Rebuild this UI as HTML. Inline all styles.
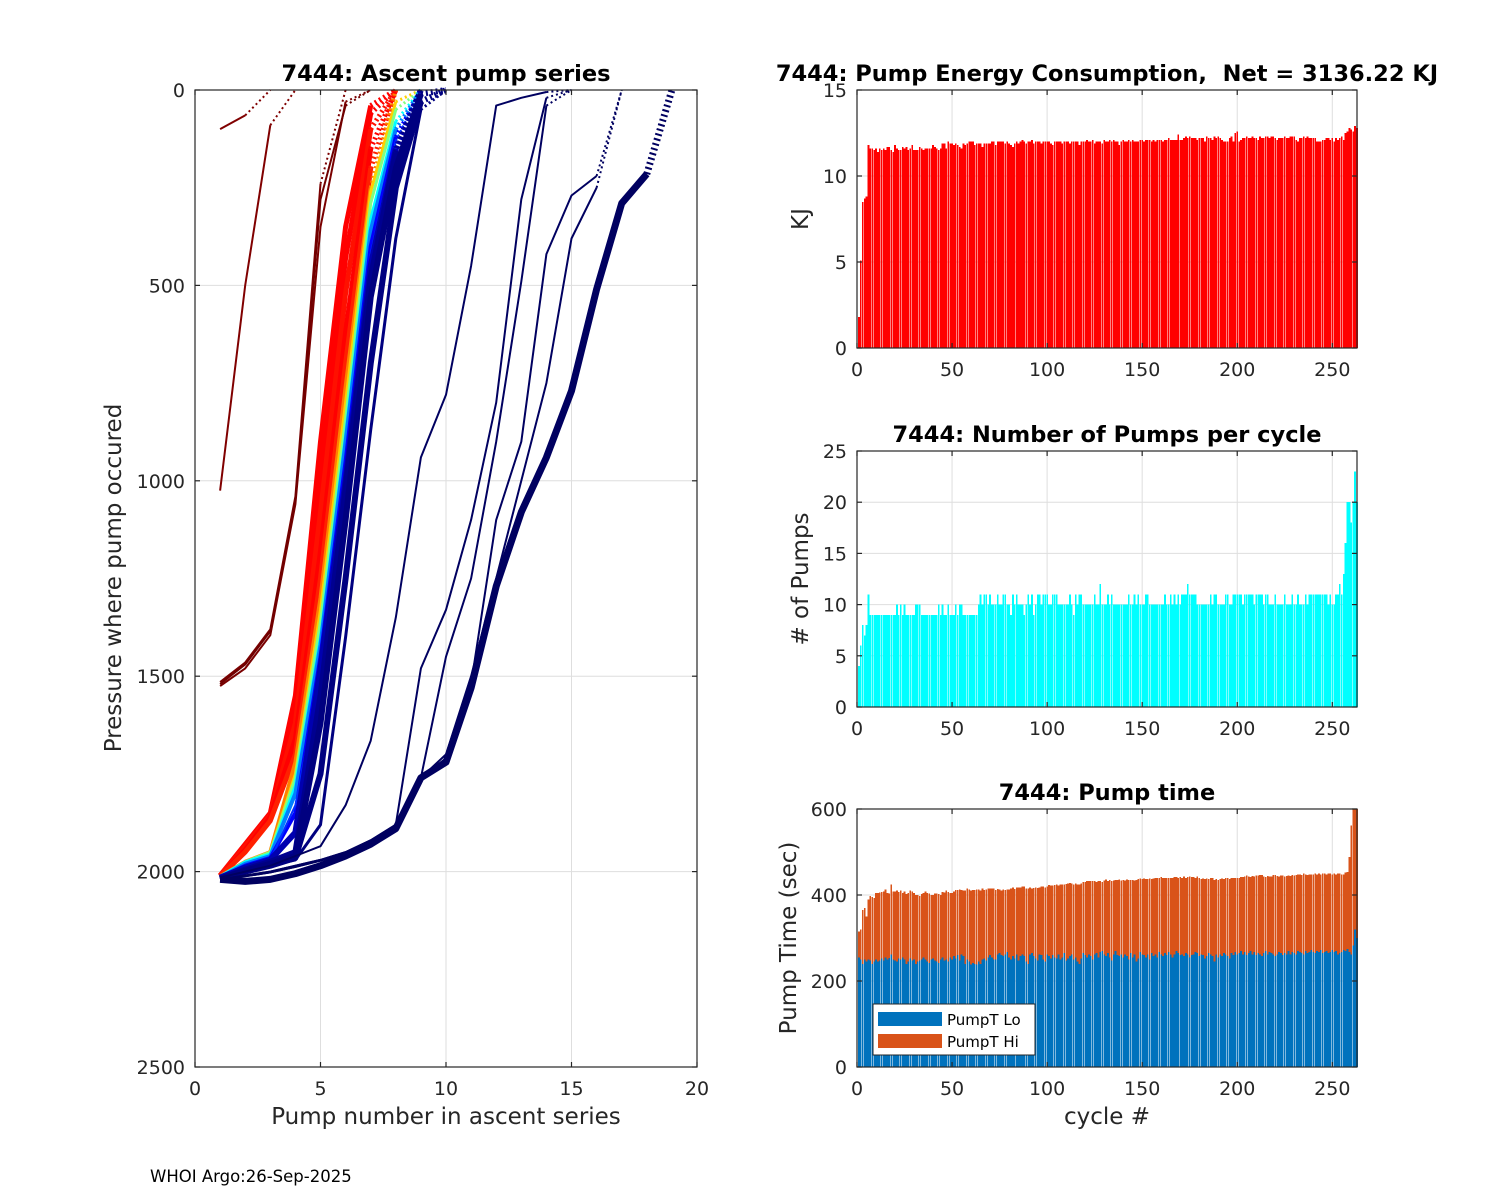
<!DOCTYPE html>
<html><head><meta charset="utf-8"><style>
body{margin:0;background:#fff;}
svg{display:block;font-family:"DejaVu Sans","Liberation Sans",sans-serif;}
</style></head><body>
<svg id="fig" width="1500" height="1200" viewBox="0 0 1500 1200">
<rect width="1500" height="1200" fill="#fff"/>
</svg>
<script>
// ---------- data ----------
const leftXTicks=[0,5,10,15,20];
const leftYTicks=[0,500,1000,1500,2000,2500];
const rightXTicks=[0,50,100,150,200,250];
const energyTicks=[0,5,10,15];
const pumpTicks=[0,5,10,15,20,25];
const timeTicks=[0,200,400,600];
const energy=[1.8,5.1,8.5,8.7,8.8,11.8,11.6,11.6,11.5,11.6,
11.4,11.6,11.5,11.6,11.5,11.7,11.7,11.5,11.4,11.8,
11.6,11.5,11.5,11.7,11.6,11.7,11.5,11.6,11.8,11.5,
11.5,11.5,11.7,11.6,11.5,11.6,11.6,11.6,11.6,11.8,
11.7,11.6,11.5,11.6,11.9,11.9,11.6,12.0,11.9,11.9,
11.8,11.9,11.8,11.7,11.6,11.9,11.8,11.9,12.0,12.0,
12.0,11.8,11.9,11.9,11.9,11.7,11.9,11.9,11.9,11.9,
12.0,12.0,11.8,12.0,12.0,12.0,12.0,11.9,12.0,11.9,
11.8,11.7,11.9,12.0,11.9,12.0,12.1,12.0,11.9,12.0,
12.0,12.1,11.9,12.0,12.0,12.0,11.9,12.0,12.0,12.0,
12.0,11.9,11.8,12.0,12.0,12.0,12.0,11.9,12.0,12.0,
12.0,11.9,12.0,12.0,12.0,12.0,11.8,12.0,12.0,12.0,
12.1,12.0,12.0,12.1,11.9,12.0,12.0,12.0,11.9,12.1,
12.0,12.0,12.1,12.0,12.1,12.0,12.0,11.8,12.0,12.1,
12.0,12.0,12.1,12.0,12.1,12.0,12.0,12.0,12.1,12.1,
12.0,12.1,12.1,12.1,12.0,12.1,12.0,12.1,12.1,12.1,
12.0,12.1,12.1,12.2,12.1,12.1,12.1,12.1,12.4,12.1,
12.1,12.2,12.3,12.2,12.3,12.2,12.2,12.2,12.1,12.2,
12.2,12.2,12.0,12.3,12.2,12.2,12.1,12.3,12.2,12.3,
12.2,12.1,12.0,12.0,12.0,12.2,12.3,12.0,12.5,12.6,
12.0,12.1,12.2,12.2,12.3,12.2,12.2,12.3,12.2,12.2,
12.1,12.3,12.2,12.2,12.3,12.3,12.2,12.3,12.3,12.2,
12.1,12.2,12.2,12.2,12.3,12.2,12.2,12.3,12.3,12.3,
12.1,12.0,12.2,12.2,12.3,12.2,12.3,12.2,12.2,12.2,
12.2,12.0,12.0,12.0,12.1,12.1,12.2,12.2,12.1,12.2,
12.0,12.2,12.1,12.2,12.3,12.1,12.5,12.6,12.8,12.7,
12.6,12.9,12.8];
const pumps=[4,6,8,7,8,11,9,9,9,9,
9,9,9,9,9,9,9,9,9,9,
10,9,10,9,10,9,9,9,9,9,
10,10,10,9,9,9,9,9,9,9,
9,9,10,9,10,9,9,10,9,9,
9,10,9,10,10,9,9,9,9,9,
9,9,9,10,11,10,11,11,10,11,
10,10,10,11,10,10,11,11,10,10,
9,11,10,11,10,10,10,9,10,11,
10,11,9,10,11,11,10,11,11,11,
10,10,11,11,11,10,10,10,10,10,
10,11,10,9,11,10,11,11,10,10,
10,10,10,10,11,10,10,12,10,10,
10,11,10,11,10,10,10,10,10,10,
10,10,11,10,10,11,10,11,10,10,
10,11,11,10,10,10,10,10,10,10,
10,11,10,10,11,10,11,10,11,10,
11,11,11,12,11,11,11,11,10,10,
10,10,10,10,10,11,10,11,11,10,
10,10,10,11,11,10,10,11,11,11,
11,11,10,11,11,11,11,11,10,11,
11,11,11,10,11,11,10,10,10,11,
10,10,10,10,11,10,10,10,11,10,
10,11,10,10,10,11,10,11,11,11,
11,11,11,11,11,11,11,10,11,10,
10,11,11,12,11,13,16,20,20,18,
20,23,20];
const pumpTLo=[255,250,240,250,245,250,248,240,245,250,
245,248,252,248,255,250,253,262,250,248,
245,252,250,255,250,240,245,252,248,250,
240,245,248,250,255,250,245,242,250,252,
248,245,242,250,255,248,250,245,255,250,
258,252,260,248,262,258,240,250,245,238,
242,240,238,245,240,250,252,248,255,260,
255,250,250,262,265,260,258,262,268,255,
250,258,252,262,248,258,262,258,245,240,
262,265,258,252,248,262,260,250,245,262,
258,252,260,255,252,262,250,255,265,248,
252,258,262,250,255,245,240,252,265,260,
255,262,258,250,262,265,255,268,270,262,
258,265,255,248,262,270,260,258,262,255,
262,258,250,265,255,262,245,252,268,262,
260,255,262,250,265,258,262,255,268,262,
258,265,260,268,262,255,262,270,265,260,
262,258,265,262,255,260,262,268,265,258,
262,260,252,258,265,262,258,245,262,255,
262,258,265,262,258,252,265,260,268,262,
265,270,262,268,260,265,270,262,268,260,
265,262,258,265,270,262,268,265,262,258,
262,268,265,260,265,262,270,262,268,265,
262,270,268,265,262,270,265,268,272,268,
265,270,268,272,265,268,270,265,268,272,
268,270,262,265,268,272,270,275,268,262,
282,320,300];
const pumpTHi=[60,70,125,120,105,140,150,155,148,155,
160,158,155,160,158,155,150,162,158,160,
165,155,160,150,158,162,160,158,160,155,
160,155,150,152,150,158,160,162,150,148,
155,158,160,150,152,158,160,162,150,155,
150,160,152,165,150,152,170,165,168,172,
170,172,175,168,170,165,160,165,160,155,
160,165,162,152,148,150,155,150,145,158,
165,160,162,155,170,160,158,162,170,175,
155,150,158,165,168,155,160,170,172,158,
165,170,162,168,172,160,175,170,160,178,
175,170,165,175,172,180,185,175,165,170,
178,170,175,182,170,165,178,165,160,172,
178,168,180,185,172,165,175,178,172,180,
172,178,185,170,180,172,190,185,170,175,
178,182,175,188,172,180,178,185,172,180,
182,175,180,172,178,185,180,172,175,182,
178,185,175,180,188,182,180,172,178,182,
175,178,185,180,172,178,182,190,175,180,
175,180,172,178,182,185,175,180,172,178,
175,172,180,175,185,178,172,182,175,185,
180,185,188,178,172,182,175,178,185,188,
182,175,180,185,178,182,175,182,178,180,
185,178,180,182,188,178,182,180,176,180,
185,178,182,176,185,182,178,185,182,176,
182,178,188,185,180,176,182,178,220,300,
400,400,400];
// ascent profiles: pressure at pump 1..n (last point = surface)
const profColors=["#800000","#800000","#7a0000","#7a0000","#700000",
"#ff0000","#ff0000","#ff1000","#ff0000","#ff2000","#ff8000","#ffd000","#80ff80","#00ffff",
"#0080ff","#0000ff","#0030ff","#0000b0","#000090","#000080","#000080","#000080",
"#000060","#000060","#000060","#000060","#000060","#000060"];
const profWidths=[2,2,2,2,2,5,5,5,5,5,4,3,3,3,4,4,2,6,6,6,6,3,2,2,2,2,2,7];
const profiles=[
[100,65,0],
[1025,500,90,0],
[1515,1465,1380,1040,240,0],
[1525,1480,1395,1060,350,30,0],
[1520,1470,1385,1050,280,40,0],
[2010,1930,1850,1550,900,350,40,0],
[2010,1940,1860,1600,1000,430,60,0],
[2010,1935,1855,1620,1080,520,100,0],
[2012,1945,1860,1660,1180,620,150,0],
[2012,1950,1870,1700,1250,700,200,0],
[2012,1975,1950,1720,1300,760,250,0],
[2012,1975,1950,1750,1330,800,260,30,0],
[2012,1975,1950,1760,1360,840,290,50,0],
[2012,1975,1955,1780,1400,880,330,80,0],
[2015,1980,1960,1800,1420,900,360,100,0],
[2015,1985,1965,1850,1450,950,400,120,0],
[2015,1990,1970,1830,1500,980,420,130,0],
[2015,1990,1970,1900,1480,1000,450,150,0],
[2018,1995,1975,1950,1550,1020,480,160,0],
[2018,1998,1980,1960,1620,1100,530,200,10,0],
[2020,2000,1985,1965,1750,1250,700,250,30,0],
[2020,2000,1985,1970,1880,1400,870,380,50,0],
[2015,2000,1985,1960,1935,1830,1665,1350,940,780,450,40,20,5,0],
[2020,2010,2000,1985,1970,1950,1920,1880,1480,1330,1100,800,280,20,0],
[2020,2010,2000,1985,1970,1950,1920,1880,1760,1450,1250,900,490,40,0],
[2020,2012,2002,1988,1972,1952,1922,1885,1760,1700,1500,1250,1000,750,380,250,0],
[2020,2012,2002,1988,1972,1952,1922,1890,1760,1710,1520,1100,900,420,270,220,0],
[2020,2025,2020,2005,1985,1960,1930,1890,1760,1720,1530,1270,1080,940,770,510,290,215,0]
];
// ---------- helpers ----------
const NS="http://www.w3.org/2000/svg";
const svg=document.getElementById('fig');
function mk(tag,attrs,parent){const e=document.createElementNS(NS,tag);for(const k in attrs)e.setAttribute(k,attrs[k]);(parent||svg).appendChild(e);return e;}
function txt(s,x,y,size,anchor,weight,parent,rot){const t=mk('text',{x:x,y:y,'font-size':size,'text-anchor':anchor||'middle','font-weight':weight||'normal',fill:weight==='bold'?'#000':'#262626'},parent);t.setAttribute('style','white-space:pre');if(rot)t.setAttribute('transform','rotate(-90 '+x+' '+y+')');t.textContent=s;return t;}
function axes(name,x0,y0,x1,y1,xs,ys,xt,yt){
  const g=mk('g',{});
  
  
  const grid=mk('g',{stroke:'#dedede','stroke-width':1},g);
  xt.forEach(v=>{const x=xs(v);mk('line',{x1:x,x2:x,y1:y0,y2:y1},grid);});
  yt.forEach(v=>{const y=ys(v);mk('line',{x1:x0,x2:x1,y1:y,y2:y},grid);});
  return g;
}
function frame(g,x0,y0,x1,y1,xs,ys,xt,yt,showX){
  mk('rect',{x:x0,y:y0,width:x1-x0,height:y1-y0,fill:'none',stroke:'#262626','stroke-width':1.2},g);
  const tk=mk('g',{stroke:'#262626','stroke-width':1.2},g);
  xt.forEach(v=>{const x=xs(v);mk('line',{x1:x,x2:x,y1:y1,y2:y1-5},tk);mk('line',{x1:x,x2:x,y1:y0,y2:y0+5},tk);
    if(showX){const t=txt(String(v),x,y1+28,19,'middle','normal',g);}});
  yt.forEach(v=>{const y=ys(v);mk('line',{x1:x0,x2:x0+5,y1:y,y2:y},tk);mk('line',{x1:x1,x2:x1-5,y1:y,y2:y},tk);
    const t=txt(String(v),x0-10,y+7,19,'end','normal',g);});
}
// ---------- left chart ----------
{
const x0=195,x1=697,y0=90,y1=1067;
const xs=v=>x0+(v/20)*(x1-x0), ys=v=>y0+(v/2500)*(y1-y0);
const g=axes('ascent-pump-chart',x0,y0,x1,y1,xs,ys,leftXTicks,leftYTicks);
const clip=mk('clipPath',{id:'cl'},g);mk('rect',{x:x0,y:y0-4,width:x1-x0,height:y1-y0+4},clip);
const lg=mk('g',{'clip-path':'url(#cl)',fill:'none','stroke-linejoin':'round'},g);
profiles.forEach((p,i)=>{
  const pts=p.map((v,k)=>xs(k+1).toFixed(1)+','+ys(v).toFixed(1));
  const solid=mk('polyline',{points:pts.slice(0,pts.length-1).join(' '),stroke:profColors[i],'stroke-width':profWidths[i]},lg);
  
  
  const dot=mk('polyline',{points:pts.slice(pts.length-2).join(' '),stroke:profColors[i],'stroke-width':profWidths[i],'stroke-dasharray':'2 3'},lg);
  
  
});
frame(g,x0,y0,x1,y1,xs,ys,leftXTicks,leftYTicks,true);
const t1=txt('7444: Ascent pump series',446,81,22.5,'middle','bold');

const t2=txt('Pump number in ascent series',446,1124,23);

const t3=txt('Pressure where pump occured',121,578,23,'middle','normal',null,true);

}
// ---------- right charts ----------
function barChart(name,y0,y1,ymax,yt,series,colors,title,ylab,ylabX){
  const x0=857,x1=1357,xmax=263;
  const xs=v=>x0+(v/xmax)*(x1-x0), ys=v=>y1-(Math.min(v,ymax)/ymax)*(y1-y0);
  const g=axes(name,x0,y0,x1,y1,xs,ys,rightXTicks,yt);
  const bw=(x1-x0)/xmax*0.9;
  const bg=mk('g',{'shape-rendering':'crispEdges'},g);
  const n=series[0].length;
  for(let i=0;i<n;i++){
    let base=0;
    series.forEach((s,si)=>{
      const top=base+s[i];
      const r=mk('rect',{x:(xs(i+1)-bw/2).toFixed(2),y:ys(top).toFixed(2),width:bw.toFixed(2),height:Math.max(0,ys(base)-ys(top)).toFixed(2),fill:colors[si]},bg);
      
      
      base=top;
    });
  }
  frame(g,x0,y0,x1,y1,xs,ys,rightXTicks,yt,true);
  const t=txt(title,1107,y0-9,22.5,'middle','bold');
  
  const yl=txt(ylab,ylabX,(y0+y1)/2,23,'middle','normal',null,true);
  
  return g;
}
barChart('energy-chart',90,348,15,energyTicks,[energy],['#ff0000'],'7444: Pump Energy Consumption,  Net = 3136.22 KJ','KJ',808);
barChart('pumps-chart',451,707,25,pumpTicks,[pumps],['#00ffff'],'7444: Number of Pumps per cycle','# of Pumps',808);
barChart('pump-time-chart',809,1067,600,timeTicks,[pumpTLo,pumpTHi],['#0072bd','#d95319'],'7444: Pump time','Pump Time (sec)',796);
const xl=txt('cycle #',1107,1124,23);

// legend
{
const lg=mk('g',{});


mk('rect',{x:873,y:1004,width:162,height:51,fill:'#fff',stroke:'#262626','stroke-width':1},lg);
const s1=mk('rect',{x:878,y:1012,width:64,height:14,fill:'#0072bd'},lg);

const s2=mk('rect',{x:878,y:1034,width:64,height:14,fill:'#d95319'},lg);

const a=txt('PumpT Lo',947,1025,15,'start','normal',lg);a.setAttribute('fill','#000');

const b=txt('PumpT Hi',947,1047,15,'start','normal',lg);b.setAttribute('fill','#000');

}
const ft=txt('WHOI Argo:26-Sep-2025',150,1182,16.5,'start');ft.setAttribute('fill','#000');

</script>
</body></html>
